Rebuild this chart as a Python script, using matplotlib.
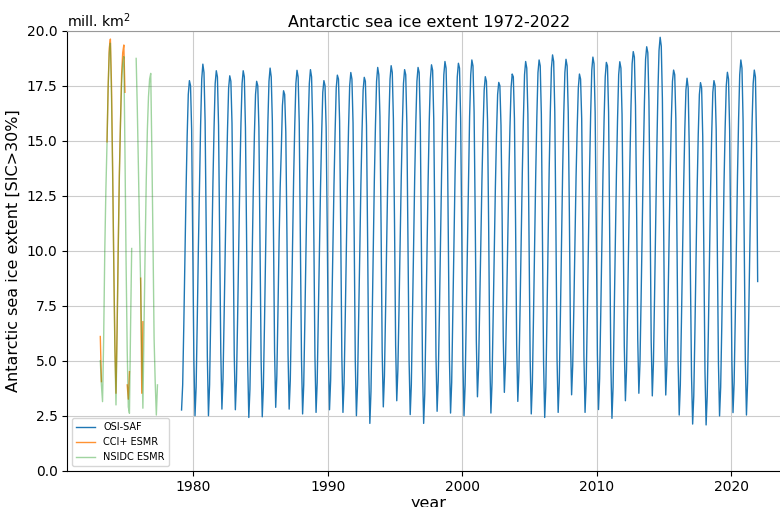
import numpy as np
import matplotlib
matplotlib.use("Agg")
import matplotlib.pyplot as plt

nan = np.nan

# OSI-SAF monthly extent (Jan..Dec), million km^2
osi_years = list(range(1979, 2022))
osi_monthly = [
    [nan, 2.76, 3.9, 6.6, 9.8, 12.7, 15.2, 17.1, 17.73, 17.5, 15.5, 10.4],
    [5.0, 2.50, 3.8, 6.8, 10.1, 13.0, 15.7, 17.8, 18.48, 18.1, 15.9, 10.9],
    [5.2, 2.50, 3.9, 6.9, 10.0, 13.1, 15.6, 17.6, 18.18, 17.9, 15.7, 10.6],
    [5.4, 2.80, 4.2, 7.1, 10.3, 13.2, 15.5, 17.4, 17.95, 17.7, 15.8, 11.1],
    [5.3, 2.77, 4.1, 6.9, 10.2, 13.3, 15.8, 17.6, 18.18, 17.9, 15.6, 10.7],
    [4.9, 2.42, 3.7, 6.5, 9.6, 12.8, 15.3, 17.1, 17.70, 17.5, 15.6, 10.5],
    [5.0, 2.45, 3.8, 6.7, 10.1, 13.2, 15.8, 17.7, 18.30, 17.9, 15.9, 10.9],
    [5.4, 2.88, 4.3, 7.2, 10.4, 12.9, 14.6, 16.6, 17.27, 17.1, 15.4, 10.8],
    [5.3, 2.80, 4.1, 7.0, 10.2, 13.3, 15.7, 17.6, 18.20, 17.9, 15.8, 10.7],
    [5.1, 2.58, 3.9, 6.8, 10.1, 13.2, 15.8, 17.6, 18.23, 17.9, 15.7, 10.8],
    [5.2, 2.65, 4.0, 6.9, 9.9, 12.9, 15.3, 17.2, 17.73, 17.5, 15.6, 10.9],
    [5.3, 2.77, 4.1, 7.0, 10.0, 13.0, 15.4, 17.4, 17.98, 17.8, 15.9, 11.0],
    [5.2, 2.65, 4.0, 6.8, 10.0, 13.1, 15.6, 17.5, 18.10, 17.8, 15.8, 10.8],
    [5.0, 2.50, 3.9, 6.8, 9.9, 13.0, 15.4, 17.3, 17.88, 17.7, 15.7, 10.5],
    [4.6, 2.15, 3.6, 6.6, 10.0, 13.2, 15.7, 17.7, 18.33, 18.0, 16.1, 11.2],
    [5.4, 2.90, 4.3, 7.2, 10.4, 13.4, 15.9, 17.8, 18.41, 18.1, 16.0, 11.3],
    [5.7, 3.18, 4.6, 7.3, 10.3, 13.3, 15.7, 17.6, 18.23, 18.0, 15.8, 10.6],
    [5.0, 2.55, 3.9, 6.9, 10.1, 13.3, 15.8, 17.7, 18.33, 18.1, 15.8, 10.3],
    [4.6, 2.15, 3.5, 6.6, 10.0, 13.2, 15.9, 17.8, 18.45, 18.2, 16.0, 10.9],
    [5.2, 2.70, 4.1, 7.0, 10.3, 13.5, 16.0, 18.0, 18.60, 18.3, 16.1, 10.8],
    [5.1, 2.62, 4.0, 7.0, 10.2, 13.4, 16.0, 17.9, 18.52, 18.3, 16.0, 10.9],
    [5.0, 2.50, 3.9, 7.0, 10.3, 13.5, 16.1, 18.0, 18.67, 18.4, 16.3, 11.5],
    [5.9, 3.36, 4.7, 7.4, 10.3, 13.2, 15.5, 17.3, 17.91, 17.7, 15.9, 11.1],
    [5.1, 2.62, 4.0, 6.9, 9.9, 12.9, 15.3, 17.1, 17.65, 17.5, 15.7, 11.6],
    [6.1, 3.56, 4.9, 7.5, 10.4, 13.3, 15.6, 17.4, 18.03, 17.9, 16.0, 11.3],
    [5.7, 3.15, 4.5, 7.3, 10.4, 13.5, 16.0, 18.0, 18.60, 18.3, 16.2, 10.9],
    [5.1, 2.58, 4.0, 7.0, 10.3, 13.5, 16.1, 18.1, 18.67, 18.4, 16.2, 10.7],
    [4.9, 2.42, 3.8, 6.9, 10.4, 13.7, 16.3, 18.3, 18.90, 18.6, 16.3, 11.0],
    [5.1, 2.65, 4.0, 7.0, 10.4, 13.6, 16.2, 18.1, 18.70, 18.4, 16.3, 11.7],
    [6.0, 3.45, 4.8, 7.4, 10.5, 13.4, 15.6, 17.4, 18.03, 17.8, 16.0, 11.0],
    [5.2, 2.65, 4.0, 7.0, 10.4, 13.6, 16.2, 18.2, 18.80, 18.5, 16.3, 11.1],
    [5.3, 2.78, 4.2, 7.1, 10.4, 13.5, 16.0, 17.9, 18.56, 18.4, 16.3, 10.8],
    [4.9, 2.38, 3.8, 6.9, 10.3, 13.5, 16.0, 18.0, 18.59, 18.3, 16.2, 11.4],
    [5.7, 3.18, 4.6, 7.5, 10.8, 14.0, 16.6, 18.5, 19.05, 18.8, 16.6, 11.9],
    [6.0, 3.52, 4.9, 7.8, 11.0, 14.2, 16.8, 18.7, 19.27, 19.0, 16.8, 12.0],
    [5.9, 3.40, 4.9, 7.9, 11.3, 14.5, 17.2, 19.1, 19.70, 19.3, 16.9, 11.8],
    [6.0, 3.44, 4.8, 7.5, 10.6, 13.6, 16.0, 17.7, 18.21, 18.0, 16.0, 10.7],
    [5.0, 2.53, 3.9, 6.8, 10.0, 13.0, 15.5, 17.3, 17.84, 17.4, 14.6, 8.9],
    [4.3, 2.12, 3.4, 6.3, 9.6, 12.8, 15.3, 17.1, 17.64, 17.4, 15.2, 9.8],
    [4.5, 2.08, 3.4, 6.3, 9.6, 12.8, 15.3, 17.2, 17.73, 17.5, 15.5, 10.1],
    [4.9, 2.49, 3.8, 6.6, 9.8, 13.1, 15.6, 17.5, 18.11, 17.8, 15.5, 10.2],
    [5.0, 2.64, 4.0, 6.9, 10.2, 13.4, 16.0, 18.0, 18.67, 18.3, 15.9, 10.5],
    [5.0, 2.53, 4.0, 6.9, 10.1, 13.3, 15.8, 17.6, 18.21, 17.9, 15.0, 8.6],
]

# ESMR monthly extent (Jan..Dec), million km^2
esmr_years = [1973, 1974, 1975, 1976, 1977]
cci_esmr_monthly = [
    [6.1, 4.05, nan, nan, nan, nan, 14.95, 17.45, 19.2, 19.62, 17.5, 13.8],
    [9.5, 5.8, 3.52, 6.5, 10.2, 13.5, 15.8, 18.0, 19.0, 19.35, 17.2, nan],
    [3.9, 3.25, 4.5, nan, nan, nan, nan, nan, nan, nan, nan, nan],
    [8.75, 3.52, 6.77, nan, nan, nan, nan, nan, nan, nan, nan, nan],
    [nan, nan, nan, nan, nan, nan, nan, nan, nan, nan, nan, nan],
]
nsidc_esmr_monthly = [
    [5.0, 3.9, 3.14, 6.0, 10.0, 12.8, 14.9, 17.4, 19.0, 19.43, 17.0, 13.5],
    [9.5, 5.5, 2.99, 6.3, 10.0, 13.3, 15.8, 17.6, 18.5, 18.82, 14.5, 9.5],
    [5.5, 2.9, 2.61, 6.5, 10.1, nan, nan, nan, 18.74, 16.5, 13.8, 11.0],
    [8.5, 5.5, 2.84, 6.5, 10.0, 13.2, 15.5, 17.0, 17.8, 18.06, 14.5, 10.5],
    [6.0, 4.0, 2.53, 3.9, nan, nan, nan, nan, nan, nan, nan, nan],
]

series_labels = ["OSI-SAF", "CCI+ ESMR", "NSIDC ESMR"]
x_ticks = [1980, 1990, 2000, 2010, 2020]
y_ticks = [0.0, 2.5, 5.0, 7.5, 10.0, 12.5, 15.0, 17.5, 20.0]


def to_series(years, rows, offset):
    t, v = [], []
    for y, row in zip(years, rows):
        for m, val in enumerate(row):
            t.append(y + (m + offset) / 12.0)
            v.append(val)
    return np.array(t), np.array(v)


t_osi, v_osi = to_series(osi_years, osi_monthly, 0.5)
t_cci, v_cci = to_series(esmr_years, cci_esmr_monthly, 1.0)
t_nsidc, v_nsidc = to_series(esmr_years, nsidc_esmr_monthly, 1.0)

fig = plt.figure(figsize=(7.8, 5.07), dpi=100)
ax = fig.add_axes([67.3 / 780, 36.3 / 507, 723.2 / 780, 440 / 507])

ax.plot(t_osi, v_osi, color="tab:blue", lw=1.0, label=series_labels[0])
ax.plot(t_cci, v_cci, color="tab:orange", lw=1.0, alpha=0.85, label=series_labels[1])
ax.plot(t_nsidc, v_nsidc, color="tab:green", lw=1.0, alpha=0.45, label=series_labels[2])

ax.set_xlim(1970.63, 2024.4)
ax.set_ylim(0, 20)
ax.set_xticks(x_ticks)
ax.set_yticks(y_ticks)
ax.set_yticklabels([f"{v:.1f}" for v in y_ticks])
ax.tick_params(labelsize=10)
ax.grid(True, color="#cccccc", lw=0.8)
ax.spines["top"].set_color("#999999")

ax.set_xlabel("year", fontsize=11.5, labelpad=1)
ax.set_ylabel("Antarctic sea ice extent [SIC>30%]", fontsize=11.5)
ax.set_title("Antarctic sea ice extent 1972-2022", fontsize=11.5, pad=3)
ax.set_title("mill. km$^2$", loc="left", fontsize=10.2, pad=3)

ax.legend(loc="lower left", fontsize=7)

fig.savefig("out.png", dpi=100)
